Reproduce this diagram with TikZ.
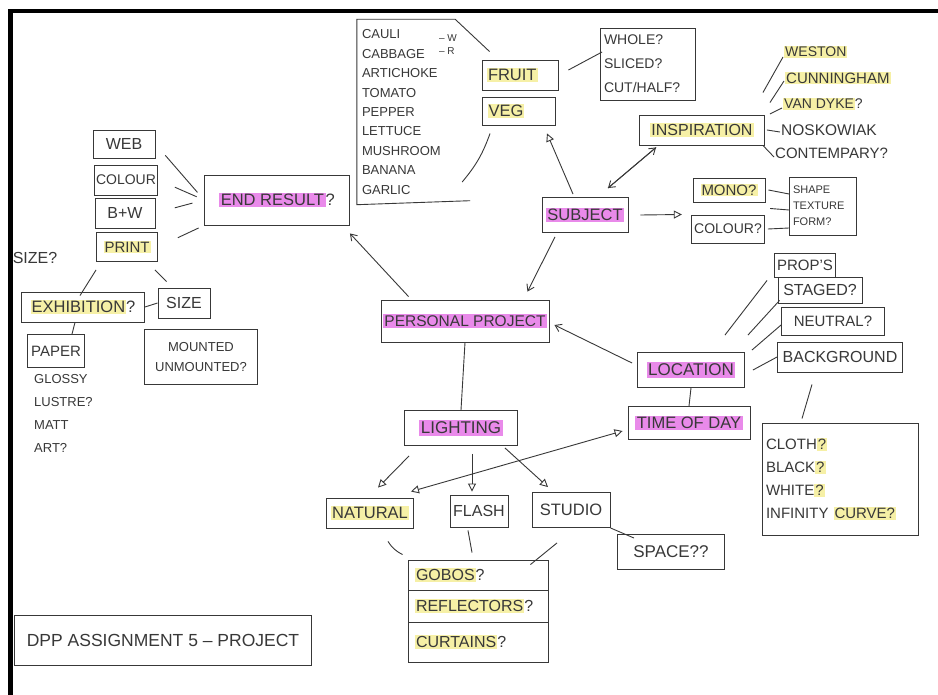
\documentclass[tikz,border=0pt]{standalone}
\usepackage{fontspec}
\setmainfont{Liberation Sans}
\usetikzlibrary{arrows.meta,calc}
\definecolor{pen}{HTML}{383838}
\definecolor{hlpink}{HTML}{E98AEA}
\definecolor{hlyellow}{HTML}{F6F0A6}
\newcommand\hy[1]{{\setlength\fboxsep{1pt}\colorbox{hlyellow}{#1}}}
\newcommand\hp[1]{{\setlength\fboxsep{1.5pt}\colorbox{hlpink}{#1}}}
\newcommand\fs[2]{\fontsize{#1}{#2}\selectfont}
\begin{document}
\begin{tikzpicture}[x=1pt,y=-1pt,
  box/.style={draw=pen, line width=0.9pt, inner sep=2pt, text=pen, font=\fs{15}{18}},
  txt/.style={inner sep=1pt, text=pen, font=\fs{15}{18}},
  con/.style={draw=pen, line width=0.9pt},
  oarr/.style={-{Triangle[open,length=8pt,width=8pt]}},
  barr/.style={-{Straight Barb[length=6pt,width=8pt]}}]
\useasboundingbox (0,0) rectangle (938,695);
\fill[white] (0,0) rectangle (938,695);
\fill[black] (8,9) rectangle (13,695);
\fill[black] (8,9) rectangle (938,13);

% --- vegetable list
\node[txt, minimum width=110, minimum height=185, text width=100, align=left, font=\fs{13}{19.4}] (veglist) at (412,112)
  {CAULI\\CABBAGE\\ARTICHOKE\\TOMATO\\PEPPER\\LETTUCE\\MUSHROOM\\BANANA\\GARLIC};
\node[txt, align=left, font=\fs{10}{13}] (wr) at (448,45) {– W\\– R};
\node[box, minimum width=76, minimum height=30, text width=66, align=left, font=\fs{16.5}{19}] (fruit) at (520,75) {\hy{FRUIT}};
\node[box, minimum width=73, minimum height=28, text width=63, align=left, font=\fs{16.5}{19}] (veg) at (519,111) {\hy{VEG}};
\draw[con] ($(veglist.north east)+(-12,0)$) -- (veglist.north west) -- (veglist.south west) -- ($(veglist.south east)+(3,-4)$);
\draw[con] ($(veglist.north east)+(-12,0)$) -- ($(fruit.north west)+(8,-8)$);
\draw[con] ($(veglist.east)+(-5,70)$) to[bend right=10] ($(veg.south west)+(8,8)$);

\node[box, minimum width=86, minimum height=35, font=\fs{16.5}{19}] (subject) at (585,215) {\hp{SUBJECT}};
\draw[con, oarr] ($(subject.north)+(-12,-3)$) -- ($(veg.south)+(28,8)$);

\node[box, minimum width=95, minimum height=72, align=left, text width=88, font=\fs{14}{24}] (whole) at (648,64) {WHOLE?\\SLICED?\\CUT/HALF?};
\draw[con] ($(fruit.east)+(10,-5)$) -- ($(whole.west)+(2,-12)$);

% --- inspiration
\node[box, minimum width=125, minimum height=30, font=\fs{16}{19}] (insp) at (702,130) {\hy{INSPIRATION}};
\draw[con, barr] ($(subject.north)+(23,-9)$) -- ($(insp.south west)+(17,2)$);
\draw[con, barr] ($(insp.south west)+(17,2)$) -- ($(subject.north)+(23,-9)$);
\node[txt, anchor=west, font=\fs{14}{16}] (weston) at (783,52) {\hy{WESTON}};
\node[txt, anchor=west, font=\fs{15}{16}] (cunn) at (784,78) {\hy{CUNNINGHAM}};
\node[txt, anchor=west, font=\fs{14}{16}] (vandyke) at (782,104) {\hy{VAN DYKE}?};
\node[txt, anchor=west, font=\fs{15.5}{16}] (nosk) at (780,130) {NOSKOWIAK};
\node[txt, anchor=west, font=\fs{15}{16}] (contemp) at (774,153) {CONTEMPARY?};
\draw[con] ($(insp.north east)+(-2,-22)$) -- ($(weston.west)+(0,5)$);
\draw[con] ($(insp.north east)+(5,-12)$) -- ($(cunn.west)+(0,3)$);
\draw[con] ($(insp.east)+(5,-16)$) -- ($(vandyke.west)+(0,4)$);
\draw[con] ($(insp.east)+(2,0)$) -- ($(nosk.west)+(0,2)$);
\draw[con] ($(insp.south east)+(-2,0)$) -- ($(contemp.west)+(0,4)$);

% --- mono / colour
\node[box, minimum width=72, minimum height=24] (mono) at (729,190) {\hy{MONO?}};
\node[box, minimum width=73, minimum height=28, font=\fs{14}{17}] (colour2) at (728,229) {COLOUR?};
\node[box, minimum width=67, minimum height=58, align=left, text width=60, font=\fs{11}{16}] (stf) at (823,206) {SHAPE\\TEXTURE\\FORM?};
\draw[con, oarr] ($(subject.east)+(12,0)$) -- ($(mono.west)!0.5!(colour2.west)+(-10,5)$);
\draw[con] ($(mono.east)+(3,0)$) -- ($(stf.west)+(0,-12)$);
\draw[con] ($(mono.south east)!0.5!(colour2.north east)+(5,0)$) -- ($(stf.west)+(0,4)$);
\draw[con] ($(colour2.east)+(3,0)$) -- ($(stf.west)+(0,22)$);

% --- end result
\node[box, minimum width=145, minimum height=50, font=\fs{16.5}{19}] (endres) at (277,200) {\hp{END RESULT}?};
\node[box, minimum width=62, minimum height=28, font=\fs{16}{18}] (web) at (124,144) {WEB};
\node[box, minimum width=63, minimum height=30, font=\fs{14}{17}] (colour1) at (126,180) {COLOUR};
\node[box, minimum width=60, minimum height=30, font=\fs{16}{18}] (bw) at (125,213) {B+W};
\node[box, minimum width=61, minimum height=29] (print) at (127,247) {\hy{PRINT}};
\draw[con, shorten <=15pt, shorten >=10pt] (web.east) -- (endres.west);
\draw[con, shorten <=18pt, shorten >=8pt] (colour1.east) -- (endres.west);
\draw[con, shorten <=20pt, shorten >=12pt] (bw.east) -- (endres.west);
\draw[con, shorten <=22pt, shorten >=6pt] (print.east) -- (endres.south west);
\node[txt, font=\fs{16}{18}] (sizeq) at (35,258) {SIZE?};
\node[box, minimum width=123, minimum height=30, font=\fs{16.5}{19}] (exhib) at (83,307) {\hy{EXHIBITION}?};
\node[box, minimum width=52, minimum height=30, font=\fs{16}{18}] (size) at (184,303) {SIZE};
\node[box, minimum width=57, minimum height=33] (paper) at (56,351) {PAPER};
\node[txt, anchor=north west, align=left, font=\fs{13}{23}] (glossy) at (33,373) {GLOSSY\\LUSTRE?\\MATT\\ART?};
\node[box, minimum width=113, minimum height=55, align=center, font=\fs{13}{20}] (mounted) at (201,357) {MOUNTED\\UNMOUNTED?};
\draw[con] ($(print.south west)+(0,8)$) -- ($(exhib.north)+(-3,4)$);
\draw[con] ($(print.south east)+(-3,8)$) -- ($(size.north west)+(9,-6)$);
\draw[con] (exhib.east) -- (size.west);
\draw[con] ($(exhib.south)+(-8,0)$) -- ($(paper.north)+(16,0)$);

% --- personal project
\node[box, minimum width=163, minimum height=42, font=\fs{15.5}{18}] (pp) at (465,321) {\hp{PERSONAL PROJECT}};
\draw[con, barr] ($(pp.north west)+(28,-3)$) -- ($(endres.south east)+(0,8)$);
\draw[con, barr] ($(subject.south)+(-30,4)$) -- ($(pp.north east)+(-22,-8)$);

% --- location
\node[box, minimum width=107, minimum height=35, font=\fs{17}{19}] (location) at (691,370) {\hp{LOCATION}};
\node[box, minimum width=122, minimum height=33, font=\fs{16.5}{19}] (tod) at (689,423) {\hp{TIME OF DAY}};
\draw[con, barr] ($(location.west)+(-5,-7)$) -- ($(pp.east)+(5,4)$);
\draw[con] (location.south) -- (tod.north);
\node[box, minimum width=61, minimum height=24] (props) at (805,265) {PROP'S};
\node[box, minimum width=84, minimum height=26, font=\fs{16}{18}] (staged) at (820,290) {STAGED?};
\node[box, minimum width=103, minimum height=28] (neutral) at (833,321) {NEUTRAL?};
\node[box, minimum width=125, minimum height=30, font=\fs{16}{18}] (background) at (840,357) {BACKGROUND};
\draw[con] ($(location.north east)+(-20,-17)$) -- ($(props.south west)+(-7,3)$);
\draw[con] ($(location.north east)+(3,-17)$) -- ($(staged.south west)+(2,-3)$);
\draw[con] ($(location.north east)+(7,-2)$) -- ($(neutral.west)+(0,4)$);
\draw[con] ($(location.east)+(8,0)$) -- (background.west);
\node[box, minimum width=156, minimum height=112, text width=148, align=left, font=\fs{15}{23}] (cloth) at (840,479)
  {CLOTH\hy{?}\\BLACK\hy{?}\\WHITE\hy{?}\\INFINITY \hy{CURVE?}};
\draw[con] ($(background.south)+(-28,12)$) -- ($(cloth.north)+(-38,-4)$);

% --- lighting
\node[box, minimum width=113, minimum height=35, font=\fs{17}{19}] (lighting) at (461,428) {\hp{LIGHTING}};
\draw[con] (pp.south) -- (lighting.north);
\node[box, minimum width=87, minimum height=30, font=\fs{16.5}{19}] (natural) at (370,513) {\hy{NATURAL}};
\node[box, minimum width=58, minimum height=32, font=\fs{16}{18}] (flash) at (479,511) {FLASH};
\node[box, minimum width=78, minimum height=35, font=\fs{16.5}{19}] (studio) at (571,510) {STUDIO};
\node[box, minimum width=107, minimum height=35, font=\fs{17}{19}] (space) at (671,552) {SPACE??};
\draw[con, oarr] ($(lighting.south west)+(5,10)$) -- ($(natural.north)+(8,-10)$);
\draw[con, oarr] ($(lighting.south)+(11,8)$) -- ($(flash.north)+(-7,-3)$);
\draw[con, oarr] ($(lighting.south east)+(-13,2)$) -- ($(studio.north)+(-23,-5)$);
\draw[con, {Triangle[open,length=8pt,width=8pt]}-{Triangle[open,length=8pt,width=8pt]}] ($(natural.north east)+(-3,-6)$) -- ($(tod.west)+(-5,8)$);
\draw[con] (studio.south east) -- ($(space.north west)+(17,4)$);

\node[box, minimum width=140, minimum height=30, text width=126, align=left, font=\fs{16}{18}] (gobos) at (478,575) {\hy{GOBOS}?};
\node[box, minimum width=140, minimum height=32, text width=126, align=left, font=\fs{16}{18}] (reflectors) at (478,606) {\hy{REFLECTORS}?};
\node[box, minimum width=140, minimum height=40, text width=126, align=left, font=\fs{16}{18}] (curtains) at (478,642) {\hy{CURTAINS}?};
\draw[con] ($(natural.south)+(18,13)$) to[bend right=15] ($(gobos.north west)+(-5,-5)$);
\draw[con] ($(flash.south)+(-11,3)$) -- ($(gobos.north)+(-6,-7)$);
\draw[con] ($(studio.south)+(-14,15)$) -- ($(gobos.north east)+(-18,5)$);

% --- title
\node[box, minimum width=297, minimum height=50, font=\fs{17.5}{20}] (dpp) at (163,640) {DPP ASSIGNMENT 5 – PROJECT};
\end{tikzpicture}
\end{document}
